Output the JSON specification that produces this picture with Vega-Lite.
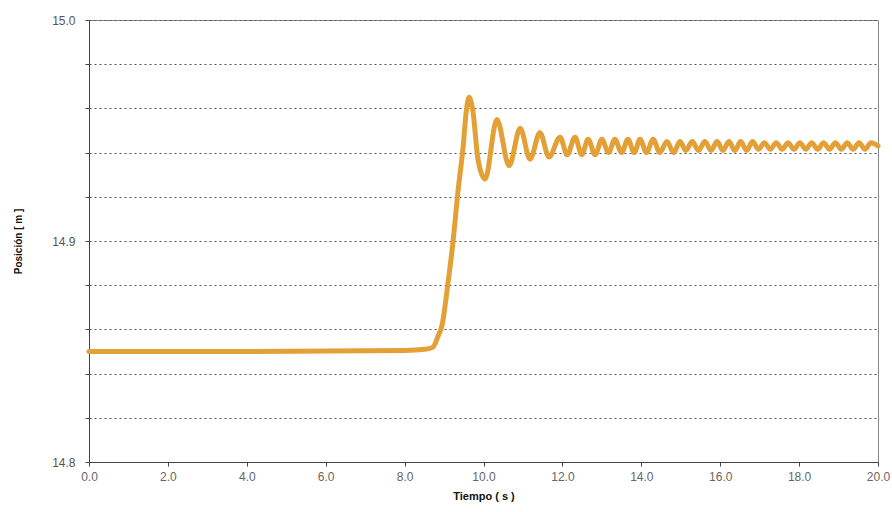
{
  "$schema": "https://vega.github.io/schema/vega-lite/v6.json",
  "width": 789,
  "height": 442,
  "autosize": {"type": "none"},
  "padding": {"left": 89, "top": 20, "right": 14, "bottom": 50},
  "background": "white",
  "config": {
    "view": {"stroke": "#8a8a8a", "strokeWidth": 1},
    "font": "Liberation Sans"
  },
  "data": {
    "values": [
      {"t": 0.0, "pos": 14.850},
      {"t": 4.0, "pos": 14.850},
      {"t": 8.0, "pos": 14.8505},
      {"t": 8.52, "pos": 14.851},
      {"t": 8.72, "pos": 14.852},
      {"t": 8.85, "pos": 14.857},
      {"t": 8.95, "pos": 14.862},
      {"t": 9.10, "pos": 14.881},
      {"t": 9.23, "pos": 14.900},
      {"t": 9.35, "pos": 14.922},
      {"t": 9.48, "pos": 14.942},
      {"t": 9.56, "pos": 14.958},
      {"t": 9.63, "pos": 14.965},
      {"t": 9.73, "pos": 14.959},
      {"t": 9.86, "pos": 14.937},
      {"t": 10.04, "pos": 14.928},
      {"t": 10.34, "pos": 14.955},
      {"t": 10.65, "pos": 14.934},
      {"t": 10.93, "pos": 14.951},
      {"t": 11.18, "pos": 14.937},
      {"t": 11.43, "pos": 14.949},
      {"t": 11.66, "pos": 14.938},
      {"t": 11.94, "pos": 14.947},
      {"t": 12.12, "pos": 14.939},
      {"t": 12.32, "pos": 14.947},
      {"t": 12.49, "pos": 14.939},
      {"t": 12.65, "pos": 14.946},
      {"t": 12.83, "pos": 14.939},
      {"t": 13.00, "pos": 14.946},
      {"t": 13.17, "pos": 14.940},
      {"t": 13.33, "pos": 14.946},
      {"t": 13.50, "pos": 14.940},
      {"t": 13.66, "pos": 14.946},
      {"t": 13.82, "pos": 14.940},
      {"t": 13.97, "pos": 14.946},
      {"t": 14.13, "pos": 14.940},
      {"t": 14.30, "pos": 14.946},
      {"t": 14.47, "pos": 14.940},
      {"t": 14.65, "pos": 14.945},
      {"t": 14.82, "pos": 14.940},
      {"t": 14.98, "pos": 14.945},
      {"t": 15.13, "pos": 14.941},
      {"t": 15.29, "pos": 14.945},
      {"t": 15.45, "pos": 14.941},
      {"t": 15.61, "pos": 14.945},
      {"t": 15.77, "pos": 14.941},
      {"t": 15.92, "pos": 14.945},
      {"t": 16.07, "pos": 14.941},
      {"t": 16.22, "pos": 14.945},
      {"t": 16.37, "pos": 14.941},
      {"t": 16.52, "pos": 14.945},
      {"t": 16.67, "pos": 14.941},
      {"t": 16.82, "pos": 14.945},
      {"t": 16.97, "pos": 14.9415},
      {"t": 17.12, "pos": 14.9445},
      {"t": 17.27, "pos": 14.9415},
      {"t": 17.42, "pos": 14.9445},
      {"t": 17.57, "pos": 14.9415},
      {"t": 17.72, "pos": 14.9445},
      {"t": 17.87, "pos": 14.9415},
      {"t": 18.02, "pos": 14.9445},
      {"t": 18.17, "pos": 14.9415},
      {"t": 18.32, "pos": 14.9445},
      {"t": 18.47, "pos": 14.9415},
      {"t": 18.62, "pos": 14.9445},
      {"t": 18.77, "pos": 14.9415},
      {"t": 18.92, "pos": 14.9445},
      {"t": 19.07, "pos": 14.9415},
      {"t": 19.22, "pos": 14.9445},
      {"t": 19.37, "pos": 14.9415},
      {"t": 19.52, "pos": 14.9445},
      {"t": 19.67, "pos": 14.9415},
      {"t": 19.82, "pos": 14.9445},
      {"t": 20.0, "pos": 14.943}
    ]
  },
  "mark": {"type": "line", "color": "#E3A036", "strokeWidth": 5, "interpolate": "monotone", "strokeCap": "round", "strokeJoin": "round"},
  "encoding": {
    "x": {
      "field": "t",
      "type": "quantitative",
      "scale": {"domain": [0, 20], "nice": false, "zero": false},
      "axis": {
        "title": "Tiempo ( s )",
        "values": [0, 2, 4, 6, 8, 10, 12, 14, 16, 18, 20],
        "format": ".1f",
        "grid": false,
        "domainColor": "#444",
        "tickColor": "#444",
        "tickSize": 4,
        "labelFontSize": 12,
        "labelColor": "#666",
        "labelPadding": 5,
        "labelFlush": false,
        "titleFontSize": 11,
        "titleFontWeight": "bold",
        "titleColor": "#111",
        "titlePadding": 8
      }
    },
    "y": {
      "field": "pos",
      "type": "quantitative",
      "scale": {"domain": [14.8, 15.0], "nice": false, "zero": false},
      "axis": {
        "title": "Posición [ m ]",
        "values": [14.8, 14.82, 14.84, 14.86, 14.88, 14.9, 14.92, 14.94, 14.96, 14.98, 15.0],
        "labelExpr": "abs(datum.value*10 - round(datum.value*10)) < 0.001 ? format(datum.value, '.1f') : ''",
        "grid": true,
        "gridColor": "#555",
        "gridDash": [2, 3],
        "gridWidth": 1,
        "domainColor": "#444",
        "tickColor": "#444",
        "tickSize": 4,
        "labelFontSize": 12,
        "labelColor": "#555",
        "labelPadding": 10,
        "labelFlush": false,
        "titleFontSize": 10,
        "titleFontWeight": "bold",
        "titleColor": "#111",
        "titleX": -71,
        "titleY": 221,
        "titleAlign": "center",
        "titleBaseline": "middle"
      }
    }
  }
}
